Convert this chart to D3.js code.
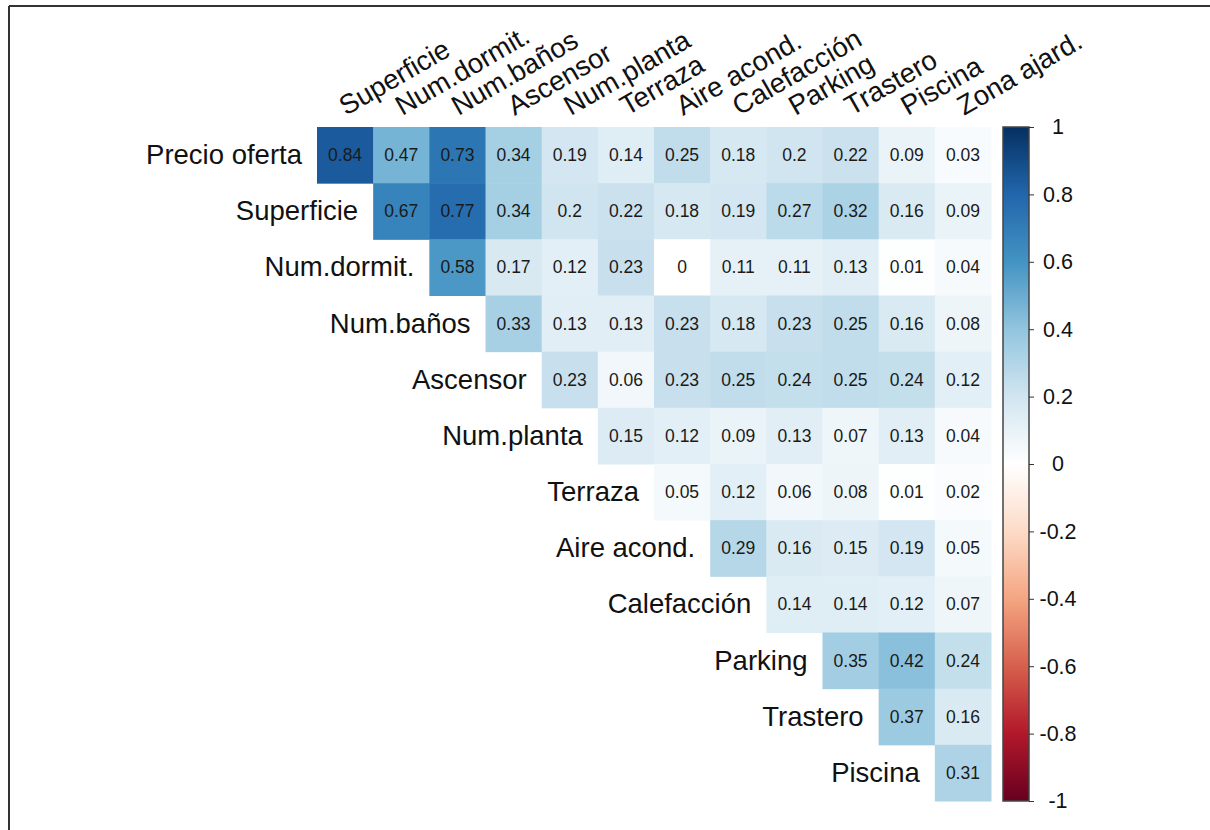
<!DOCTYPE html>
<html lang="en">
<head>
<meta charset="utf-8">
<title>Correlaciones</title>
<style>
  body { margin: 0; background: #fff; font-family: "Liberation Sans", Arial, Helvetica, sans-serif; }
  .frame { stroke: #333; stroke-width: 2px; }
  .row-label { text-anchor: end; font-size: 27.5px; fill: #111; }
  .col-label { text-anchor: start; font-size: 27.5px; fill: #111; }
  .cell-text { text-anchor: middle; font-size: 17.5px; fill: #1a1a1a; }
  .bar-axis text { font-size: 21.5px; fill: #111; }
  .bar-axis line { stroke: #333; }
</style>
</head>
<body>
<script src="https://d3js.org/d3.v7.min.js" charset="utf-8"></script>
<script>
  var rowNames = ['Precio oferta', 'Superficie', 'Num.dormit.', 'Num.baños', 'Ascensor', 'Num.planta',
                  'Terraza', 'Aire acond.', 'Calefacción', 'Parking', 'Trastero', 'Piscina'];
  var colNames = ['Superficie', 'Num.dormit.', 'Num.baños', 'Ascensor', 'Num.planta', 'Terraza',
                  'Aire acond.', 'Calefacción', 'Parking', 'Trastero', 'Piscina', 'Zona ajard.'];

  // upper triangle, each row starts on its own diagonal column
  var corrRows = [
    [0.84, 0.47, 0.73, 0.34, 0.19, 0.14, 0.25, 0.18, 0.2, 0.22, 0.09, 0.03],
    [0.67, 0.77, 0.34, 0.2, 0.22, 0.18, 0.19, 0.27, 0.32, 0.16, 0.09],
    [0.58, 0.17, 0.12, 0.23, 0, 0.11, 0.11, 0.13, 0.01, 0.04],
    [0.33, 0.13, 0.13, 0.23, 0.18, 0.23, 0.25, 0.16, 0.08],
    [0.23, 0.06, 0.23, 0.25, 0.24, 0.25, 0.24, 0.12],
    [0.15, 0.12, 0.09, 0.13, 0.07, 0.13, 0.04],
    [0.05, 0.12, 0.06, 0.08, 0.01, 0.02],
    [0.29, 0.16, 0.15, 0.19, 0.05],
    [0.14, 0.14, 0.12, 0.07],
    [0.35, 0.42, 0.24],
    [0.37, 0.16],
    [0.31]
  ];

  var colorStops = [-1, -0.8, -0.6, -0.4, -0.2, 0, 0.2, 0.4, 0.6, 0.8, 1];
  var colorValues = ['#67001F', '#B2182B', '#D6604D', '#F4A582', '#FDDBC7', '#FFFFFF',
                     '#D1E5F0', '#92C5DE', '#4393C3', '#2166AC', '#053061'];
  var barTicks = [-1, -0.8, -0.6, -0.4, -0.2, 0, 0.2, 0.4, 0.6, 0.8, 1];

  var cells = [];
  corrRows.forEach(function(vals, i) {
    vals.forEach(function(v, k) {
      cells.push({row: rowNames[i], col: colNames[i + k], value: v});
    });
  });

  var svg = d3.select('body').append('svg')
      .attr('width', 1210)
      .attr('height', 830);

  // frame lines (top and left)
  svg.append('line').attr('class', 'frame')
      .attr('x1', 9).attr('x2', 1210).attr('y1', 6).attr('y2', 6);
  svg.append('line').attr('class', 'frame')
      .attr('x1', 9).attr('x2', 9).attr('y1', 6).attr('y2', 830);

  var x = d3.scaleBand().domain(colNames).range([317, 991]);
  var y = d3.scaleBand().domain(rowNames).range([127, 801]);
  var color = d3.scaleLinear().domain(colorStops).range(colorValues);

  svg.append('g').selectAll('rect')
      .data(cells)
    .enter().append('rect')
      .attr('x', function(d) { return x(d.col); })
      .attr('y', function(d) { return y(d.row); })
      .attr('width', x.bandwidth() + 0.5)
      .attr('height', y.bandwidth() + 0.5)
      .attr('fill', function(d) { return color(d.value); });

  svg.append('g').selectAll('text')
      .data(cells)
    .enter().append('text')
      .attr('class', 'cell-text')
      .attr('x', function(d) { return x(d.col) + x.bandwidth() / 2; })
      .attr('y', function(d) { return y(d.row) + y.bandwidth() / 2 + 6; })
      .text(function(d) { return String(d.value); });

  // row labels, right aligned before each row's first cell
  svg.append('g').selectAll('text')
      .data(rowNames)
    .enter().append('text')
      .attr('class', 'row-label')
      .attr('x', function(d, i) { return x(colNames[i]) - 15; })
      .attr('y', function(d) { return y(d) + y.bandwidth() / 2 + 9; })
      .text(function(d) { return d; });

  // column labels, rotated
  svg.append('g').selectAll('text')
      .data(colNames)
    .enter().append('text')
      .attr('class', 'col-label')
      .attr('transform', function(d) {
        return 'translate(' + (x(d) + x.bandwidth() / 2 + 1) + ',116) rotate(-30)';
      })
      .text(function(d) { return d; });

  // colour bar
  var barY = d3.scaleLinear().domain([-1, 1]).range([801, 127]);
  var grad = svg.append('defs').append('linearGradient')
      .attr('id', 'corr-grad')
      .attr('x1', 0).attr('x2', 0).attr('y1', 1).attr('y2', 0);
  grad.selectAll('stop')
      .data(colorStops)
    .enter().append('stop')
      .attr('offset', function(d) { return (d + 1) / 2; })
      .attr('stop-color', function(d) { return color(d); });

  svg.append('rect')
      .attr('x', 1003)
      .attr('y', barY(1))
      .attr('width', 26)
      .attr('height', barY(-1) - barY(1))
      .attr('fill', 'url(#corr-grad)')
      .attr('stroke', '#444')
      .attr('stroke-width', 1.5);

  var barAxis = svg.append('g')
      .attr('class', 'bar-axis')
      .attr('transform', 'translate(1029,0)')
      .call(d3.axisRight(barY).tickValues(barTicks).tickSize(5)
        .tickFormat(function(d) { return String(Math.round(d * 10) / 10); }));
  barAxis.select('.domain').remove();
  barAxis.selectAll('text')
      .attr('x', 29)
      .attr('text-anchor', 'middle');
  barAxis.attr('font-family', null).attr('font-size', null);
</script>
</body>
</html>
